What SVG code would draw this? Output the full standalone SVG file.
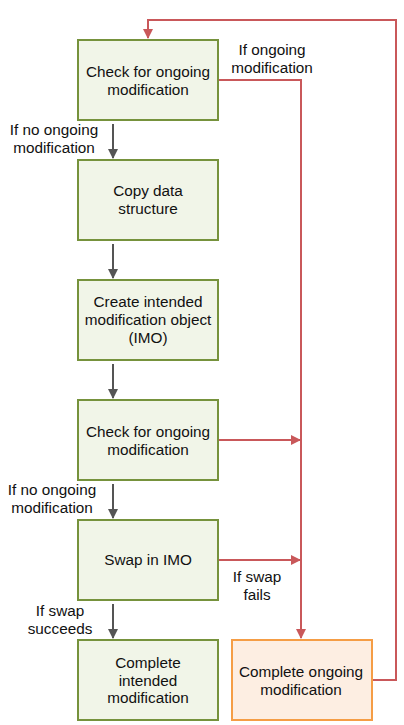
<svg xmlns="http://www.w3.org/2000/svg" width="404" height="725" viewBox="0 0 404 725">
<style>
.g{fill:#f1f5e8;stroke:#76923c;stroke-width:2}
.o{fill:#fdeee2;stroke:#f59d45;stroke-width:2}
text{font-family:"Liberation Sans",Arial,sans-serif;font-size:15.3px;fill:#111;text-anchor:middle}
.gl{stroke:#555;stroke-width:2;fill:none}
.rl{stroke:#c9585a;stroke-width:2;fill:none}
</style>
<defs>
<marker id="ag" viewBox="0 0 10 10" refX="9" refY="5" markerWidth="5" markerHeight="5" orient="auto" markerUnits="strokeWidth"><path d="M0,0L10,5L0,10z" fill="#555"/></marker>
<marker id="ar" viewBox="0 0 10 10" refX="9" refY="5" markerWidth="5" markerHeight="5" orient="auto" markerUnits="strokeWidth"><path d="M0,0L10,5L0,10z" fill="#c9585a"/></marker>
</defs>
<rect width="404" height="725" fill="#fff"/>
<g id="connectors">
<path class="gl" d="M113,124V158" marker-end="url(#ag)"/>
<path class="gl" d="M113,244V278" marker-end="url(#ag)"/>
<path class="gl" d="M113,364V398" marker-end="url(#ag)"/>
<path class="gl" d="M113,484V518" marker-end="url(#ag)"/>
<path class="gl" d="M113,604V638" marker-end="url(#ag)"/>
<path class="rl" d="M219,80H301V638" marker-end="url(#ar)"/>
<path class="rl" d="M219,440H300" marker-end="url(#ar)"/>
<path class="rl" d="M219,560H300" marker-end="url(#ar)"/>
<path class="rl" d="M372,680H396V20H148V38" marker-end="url(#ar)"/>
<text x="272" y="55">If ongoing</text>
<text x="272" y="73">modification</text>
<text x="54" y="135">If no ongoing</text>
<text x="54" y="153">modification</text>
<text x="52" y="495">If no ongoing</text>
<text x="52" y="513">modification</text>
<text x="257" y="582">If swap</text>
<text x="257" y="600">fails</text>
<text x="60" y="616">If swap</text>
<text x="60" y="634">succeeds</text>
</g>
<g id="n1"><rect class="g" x="78" y="40" width="140" height="80"/><text x="148" y="77">Check for ongoing</text><text x="148" y="95">modification</text></g>
<g id="n2"><rect class="g" x="78" y="160" width="140" height="80"/><text x="148" y="196">Copy data</text><text x="148" y="214">structure</text></g>
<g id="n3"><rect class="g" x="78" y="280" width="140" height="80"/><text x="148" y="307">Create intended</text><text x="148" y="325">modification object</text><text x="148" y="343">(IMO)</text></g>
<g id="n4"><rect class="g" x="78" y="400" width="140" height="80"/><text x="148" y="437">Check for ongoing</text><text x="148" y="455">modification</text></g>
<g id="n5"><rect class="g" x="78" y="520" width="140" height="80"/><text x="148" y="565">Swap in IMO</text></g>
<g id="n6"><rect class="g" x="78" y="640" width="140" height="80"/><text x="148" y="668">Complete</text><text x="148" y="686">intended</text><text x="148" y="703">modification</text></g>
<g id="n7"><rect class="o" x="232" y="640" width="140" height="80"/><text x="301" y="677">Complete ongoing</text><text x="301" y="695">modification</text></g>
</svg>
